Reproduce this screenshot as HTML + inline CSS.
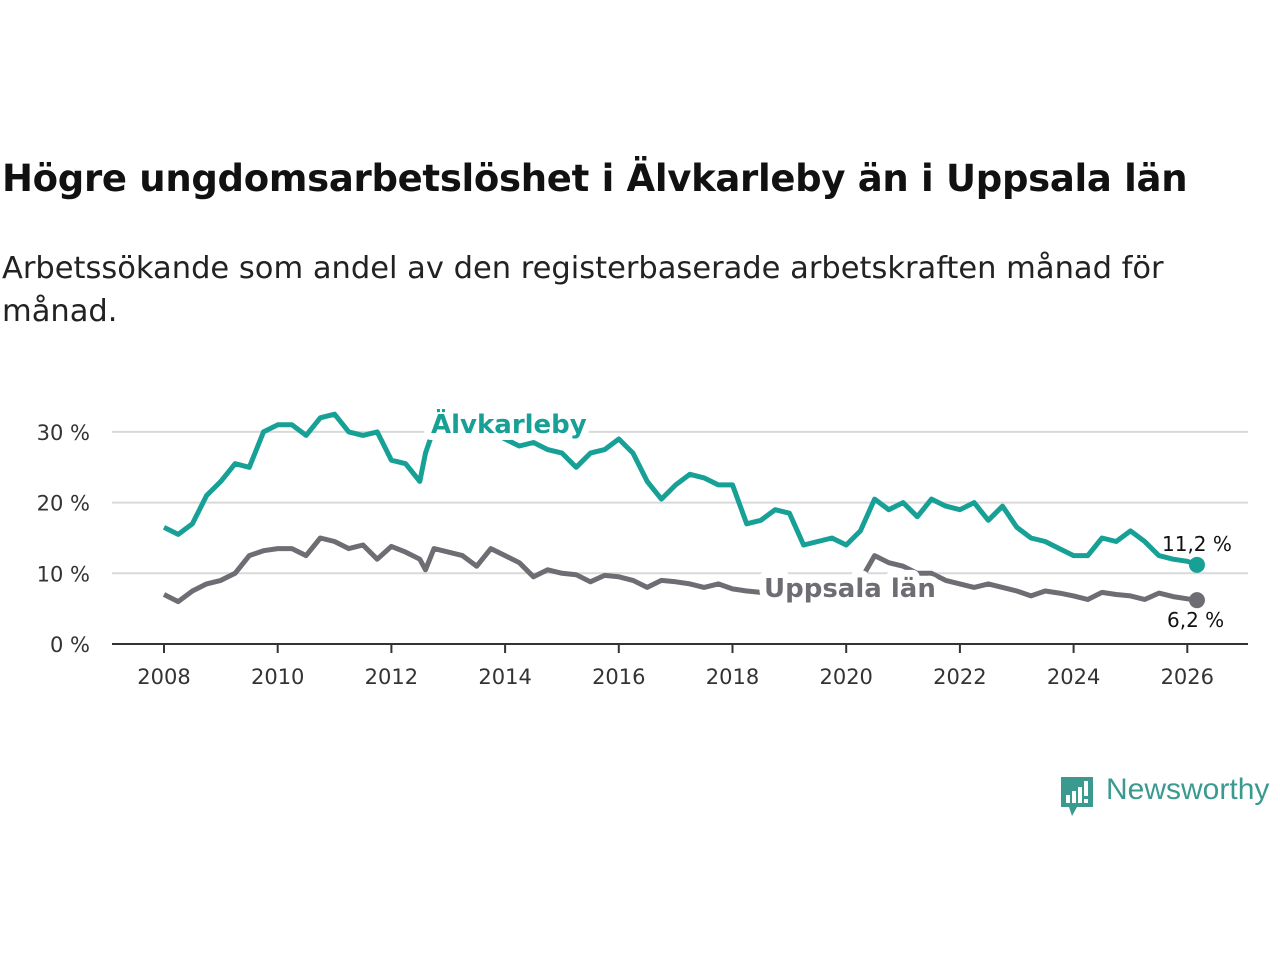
<!DOCTYPE html>
<html><head><meta charset="utf-8"><style>
body{margin:0;background:#fff;font-family:"Liberation Sans","DejaVu Sans",sans-serif}
#wrap{position:relative;width:1280px;height:960px;overflow:hidden}
h1{position:absolute;left:2px;top:157px;margin:0;font-size:37px;font-weight:bold;color:#111;font-family:"DejaVu Sans","Liberation Sans",sans-serif;letter-spacing:-0.3px}
p.sub{position:absolute;left:2px;top:247px;margin:0;font-size:30.5px;line-height:43px;color:#222;width:1190px;font-family:"DejaVu Sans","Liberation Sans",sans-serif;font-weight:normal}
</style></head><body>
<div id="wrap">
<h1>Högre ungdomsarbetslöshet i Älvkarleby än i Uppsala län</h1>
<p class="sub">Arbetssökande som andel av den registerbaserade arbetskraften månad för månad.</p>
<svg id="chart" width="1280" height="960" style="position:absolute;left:0;top:0"></svg>
<div style="position:absolute;left:1059px;top:775px;height:42px">
<svg width="36" height="44" style="position:absolute;left:0;top:0"><path d="M2 2h32v30H18l-5 9-3-9H2z" fill="#3b9a8f"/><rect x="7" y="20" width="4" height="8" fill="#fff"/><rect x="13" y="16" width="4" height="12" fill="#fff"/><rect x="19" y="12" width="4" height="16" fill="#fff"/><rect x="25" y="6" width="4" height="15" fill="#fff"/><rect x="25" y="24" width="4" height="4" fill="#fff"/></svg>
<span style="position:absolute;left:47px;top:-2px;font-size:30px;color:#3b9a8f;white-space:nowrap">Newsworthy</span>
</div>
</div>
<script>
const yearsA=[2008,2008.25,2008.5,2008.75,2009,2009.25,2009.5,2009.75,2010,2010.25,2010.5,2010.75,2011,2011.25,2011.5,2011.75,2012,2012.25,2012.5,2012.6,2012.75,2013,2013.25,2013.5,2013.75,2014,2014.25,2014.5,2014.75,2015,2015.25,2015.5,2015.75,2016,2016.25,2016.5,2016.75,2017,2017.25,2017.5,2017.75,2018,2018.25,2018.5,2018.75,2019,2019.25,2019.5,2019.75,2020,2020.25,2020.5,2020.75,2021,2021.25,2021.5,2021.75,2022,2022.25,2022.5,2022.75,2023,2023.25,2023.5,2023.75,2024,2024.25,2024.5,2024.75,2025,2025.25,2025.5,2025.75,2026,2026.17];
const alvkarleby=[16.5,15.5,17,21,23,25.5,25,30,31,31,29.5,32,32.5,30,29.5,30,26,25.5,23,27,30.5,30,30,30,30,29,28,28.5,27.5,27,25,27,27.5,29,27,23,20.5,22.5,24,23.5,22.5,22.5,17,17.5,19,18.5,14,14.5,15,14,16,20.5,19,20,18,20.5,19.5,19,20,17.5,19.5,16.5,15,14.5,13.5,12.5,12.5,15,14.5,16,14.5,12.5,12,11.7,11.2];
const uppsala=[7,6,7.5,8.5,9,10,12.5,13.2,13.5,13.5,12.5,15,14.5,13.5,14,12,13.8,13,12,10.5,13.5,13,12.5,11,13.5,12.5,11.5,9.5,10.5,10,9.8,8.8,9.7,9.5,9,8,9,8.8,8.5,8,8.5,7.8,7.5,7.3,8,8,8,8,8,8,9,12.5,11.5,11,10,10,9,8.5,8,8.5,8,7.5,6.8,7.5,7.2,6.8,6.3,7.3,7,6.8,6.3,7.2,6.7,6.4,6.2];
const yTicks=[0,10,20,30];
const xTicks=[2008,2010,2012,2014,2016,2018,2020,2022,2024,2026];
const NS='http://www.w3.org/2000/svg';
const svg=document.getElementById('chart');
const X=v=>164+(v-2008)*56.85;
const Y=v=>644-v*7.07;
function mk(t,a,p){const e=document.createElementNS(NS,t);for(const k in a)e.setAttribute(k,a[k]);(p||svg).appendChild(e);return e;}
yTicks.forEach(t=>{
 if(t>0){const g=mk('line',{x1:112,x2:1248,y1:Y(t),y2:Y(t),stroke:'#d9d9d9','stroke-width':2});
 
 }
 const l=mk('text',{x:90,y:Y(t)+8,'text-anchor':'end','font-size':21,fill:'#333','font-family':'DejaVu Sans, Liberation Sans, sans-serif'});
 l.textContent=t+' %';
 
 
});
const ax=mk('line',{x1:112,x2:1248,y1:644,y2:644,stroke:'#333','stroke-width':2});


xTicks.forEach(t=>{
 const tk=mk('line',{x1:X(t),x2:X(t),y1:644,y2:653,stroke:'#333','stroke-width':2});
 
 
 const l=mk('text',{x:X(t),y:684,'text-anchor':'middle','font-size':21,fill:'#333','font-family':'DejaVu Sans, Liberation Sans, sans-serif'});
 l.textContent=t;
 
 
});
function series(vals,col,name){
 const d=vals.map((v,i)=>(i?'L':'M')+X(yearsA[i]).toFixed(1)+' '+Y(v).toFixed(1)).join(' ');
 const p=mk('path',{d:d,fill:'none',stroke:col,'stroke-width':5,'stroke-linejoin':'round'});
 
 
 const n=vals.length-1;
 const c=mk('circle',{cx:X(yearsA[n]),cy:Y(vals[n]),r:8,fill:col});
 
 
}
series(uppsala,'#6e6d73','uppsala');
series(alvkarleby,'#17a096','alvkarleby');
function lab(txt,x,y,col,sz,bold,name){
 const t=mk('text',{x:x,y:y,fill:col,'font-size':sz,'font-weight':bold?'bold':'normal',stroke:'#fff','stroke-width':bold?14:6,'paint-order':'stroke','stroke-linejoin':'round','font-family':'DejaVu Sans, Liberation Sans, sans-serif'});
 t.textContent=txt;
 
 
}
lab('Älvkarleby',431,433,'#17a096',26,true,'alvkarleby-label');
lab('Uppsala län',764,597,'#6e6d73',26,true,'uppsala-label');
lab('11,2 %',1162,551,'#111',20,false,'alvkarleby-value-label');
lab('6,2 %',1167,627,'#111',20,false,'uppsala-value-label');
</script>
</body></html>
